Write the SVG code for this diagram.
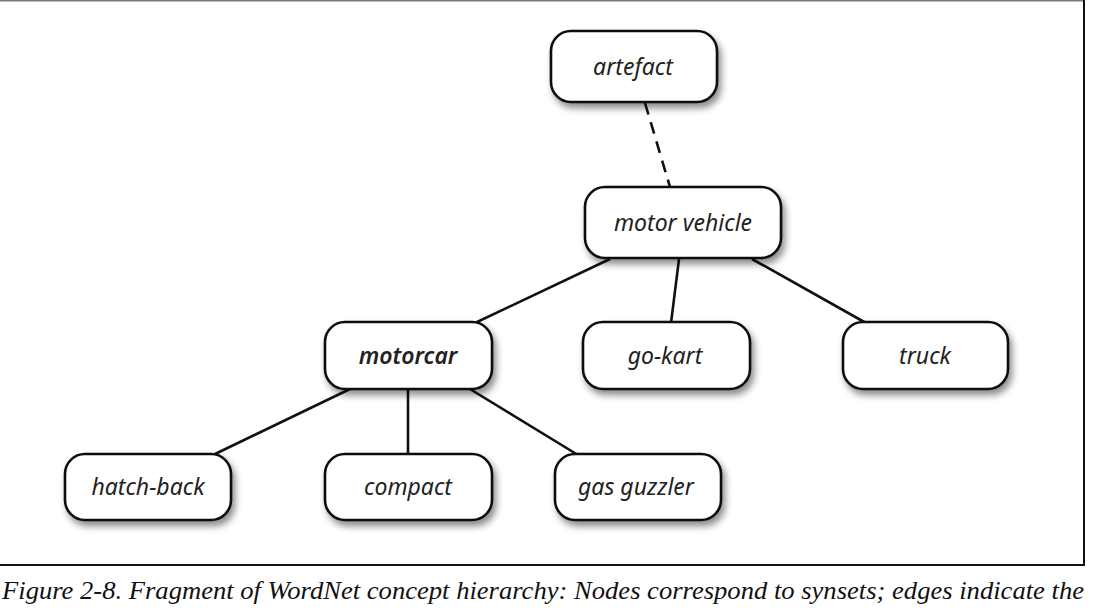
<svg xmlns="http://www.w3.org/2000/svg" width="1096" height="611" viewBox="0 0 1096 611">
<defs>
<filter id="sh" x="-20%" y="-20%" width="150%" height="160%">
<feDropShadow dx="3" dy="5" stdDeviation="3.5" flood-color="#000" flood-opacity="0.45"/>
</filter>
<style>
.box{fill:#fff;stroke:#111;stroke-width:2.6}
.lbl{font-family:"Noto Sans","Open Sans",sans-serif;font-style:italic;font-size:23px;fill:#222;text-anchor:middle;dominant-baseline:central}
.edge{stroke:#111;stroke-width:2.6;fill:none}
.dash{stroke-dasharray:12 8}
.cap{font-family:"Liberation Serif",serif;font-style:italic;font-size:26px;fill:#111}
</style>
</defs>
<rect width="1096" height="611" fill="#fff"/>
<g id="frame" stroke="#111" stroke-width="2" fill="none">
<line x1="0" y1="0.5" x2="1085" y2="0.5" stroke="#777"/>
<line x1="1084" y1="0" x2="1084" y2="566"/>
<line x1="0" y1="565" x2="1085" y2="565"/>
</g>
<g id="connectors">
<line class="edge dash" x1="645" y1="103" x2="670" y2="187"/>
<line class="edge" x1="610" y1="259" x2="475" y2="323"/>
<line class="edge" x1="679" y1="259" x2="671" y2="323"/>
<line class="edge" x1="752" y1="259" x2="866" y2="323"/>
<line class="edge" x1="350" y1="389" x2="213" y2="455"/>
<line class="edge" x1="408" y1="389" x2="408" y2="455"/>
<line class="edge" x1="470" y1="389" x2="578" y2="455"/>
</g>
<g id="artefact"><rect class="box" filter="url(#sh)" x="551" y="31" width="166" height="71" rx="20"/><text class="lbl" x="633" y="66">artefact</text></g>
<g id="motor-vehicle"><rect class="box" filter="url(#sh)" x="585" y="187" width="196" height="71" rx="20"/><text class="lbl" x="683" y="222">motor vehicle</text></g>
<g id="motorcar"><rect class="box" filter="url(#sh)" x="325" y="322" width="167" height="67" rx="20"/><text class="lbl" x="408" y="355" font-weight="600">motorcar</text></g>
<g id="go-kart"><rect class="box" filter="url(#sh)" x="583" y="322" width="167" height="67" rx="20"/><text class="lbl" x="665" y="355">go-kart</text></g>
<g id="truck"><rect class="box" filter="url(#sh)" x="843" y="322" width="165" height="67" rx="20"/><text class="lbl" x="925" y="355">truck</text></g>
<g id="hatch-back"><rect class="box" filter="url(#sh)" x="65" y="454" width="166" height="66" rx="20"/><text class="lbl" x="148" y="486">hatch-back</text></g>
<g id="compact"><rect class="box" filter="url(#sh)" x="325" y="454" width="167" height="66" rx="20"/><text class="lbl" x="408" y="486">compact</text></g>
<g id="gas-guzzler"><rect class="box" filter="url(#sh)" x="555" y="454" width="166" height="66" rx="20"/><text class="lbl" x="636" y="486">gas guzzler</text></g>
<text class="cap" x="2" y="599" textLength="1082" lengthAdjust="spacingAndGlyphs">Figure 2-8. Fragment of WordNet concept hierarchy: Nodes correspond to synsets; edges indicate the</text>
</svg>
